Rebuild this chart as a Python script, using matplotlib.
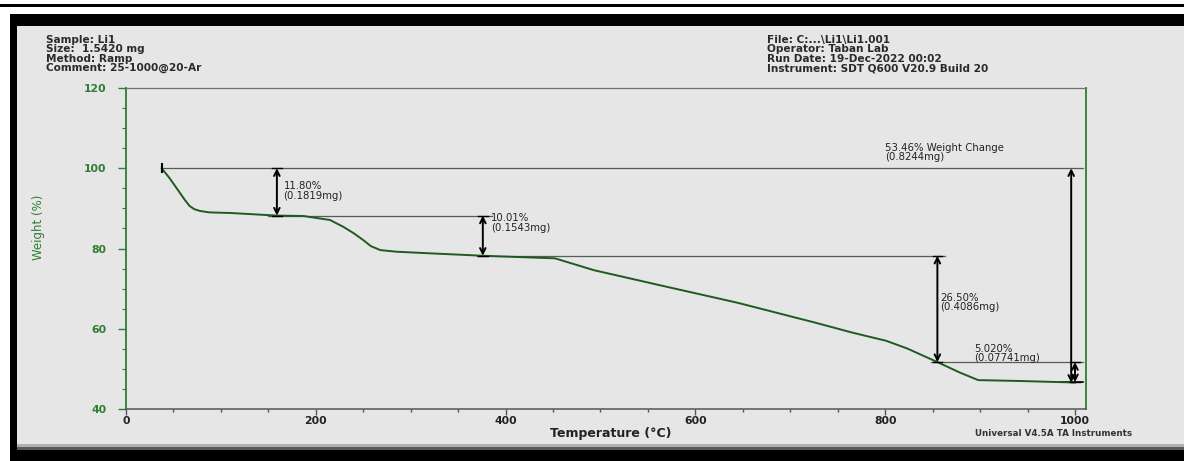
import matplotlib
matplotlib.use("Agg")
import matplotlib.pyplot as plt
from matplotlib.patches import Rectangle
from matplotlib.ticker import MultipleLocator

# TGA run of sample Li1 (weight % vs temperature)
temperature = [37.6, 46, 57, 62, 67, 72, 78, 88, 110, 159, 187, 215, 229, 240,
               250, 258, 268, 285, 320, 376, 452, 493, 569, 644, 725, 766, 801,
               823, 855, 879, 898, 942, 1000]
weight = [100.0, 97.5, 93.8, 92.1, 90.6, 89.8, 89.35, 89.0, 88.85, 88.2, 88.1,
          87.1, 85.4, 83.8, 82.1, 80.6, 79.6, 79.2, 78.8, 78.19, 77.55, 74.6,
          70.5, 66.5, 61.6, 59.0, 57.0, 55.1, 51.69, 49.05, 47.2, 46.98, 46.6]

# step transitions: where the arrow sits, the upper level and the % lost
step_temp = [159, 376, 855, 1000]
step_top = [100.0, 88.20, 78.19, 51.69]
step_change = [11.80, 10.01, 26.50, 5.020]
step_mass = ["0.1819", "0.1543", "0.4086", "0.07741"]

total_temp = 996
total_change = 53.46
total_mass = "0.8244"

header_left = ["Sample: Li1", "Size:  1.5420 mg", "Method: Ramp",
               "Comment: 25-1000@20-Ar"]
header_right = ["File: C:...\\Li1\\Li1.001", "Operator: Taban Lab",
                "Run Date: 19-Dec-2022 00:02",
                "Instrument: SDT Q600 V20.9 Build 20"]

W, H = 1184, 461
BG = "#e6e6e6"
GREEN = "#2e7d32"
CURVE = "#1f5a1f"

plt.rcParams["font.family"] = ["DejaVu Sans"]
fig = plt.figure(figsize=(W / 100, H / 100), dpi=100, facecolor="white")

def px(x0, y0, w, h, **kw):
    # rectangle given in pixel coords measured from the top-left corner
    r = Rectangle((x0 / W, 1 - (y0 + h) / H), w / W, h / H,
                  transform=fig.transFigure, zorder=-5, lw=0, **kw)
    fig.add_artist(r)

px(0, 4, W, 3.5, color="black")
px(10, 14, W - 10, H - 14, color="black")
px(17, 26, W - 17, 420, color=BG)
px(17, 444, W - 17, 3, color="#b0b0b0")
px(17, 447, W - 17, 3, color="#5a5a5a")

ax = fig.add_axes([126 / W, 1 - 409 / H, 960 / W, 321 / H])
ax.set_facecolor(BG)
ax.set_xlim(0, 1011.6)
ax.set_ylim(40, 120)

ax.plot(temperature, weight, color=CURVE, lw=1.4, zorder=4)
# starting marker
ax.plot([temperature[0]] * 2, [weight[0] - 1.0, weight[0] + 1.0],
        color="black", lw=1.5, zorder=5)

line_kw = dict(color="#5a5a5a", lw=0.9, zorder=3)
ax.plot([temperature[0], 1008], [100, 100], **line_kw)
ax.plot([150, 386], [step_top[1], step_top[1]], **line_kw)
ax.plot([370, 863], [step_top[2], step_top[2]], **line_kw)
ax.plot([848, 1008], [step_top[3], step_top[3]], **line_kw)
ax.plot([985, 1008], [step_top[3] - step_change[3]] * 2, color="black", lw=1.2,
        zorder=3)

arrow_kw = dict(arrowstyle="<->", lw=1.4, color="black", mutation_scale=10,
                shrinkA=0, shrinkB=0)

text_off = [(7, -3.3), (9, 0.6), (3, -9.2), (-106, 4.6)]
for t, top, ch, mass, (dx, dy) in zip(step_temp, step_top, step_change,
                                      step_mass, text_off):
    bottom = top - ch
    ax.annotate("", xy=(t, bottom), xytext=(t, top), arrowprops=arrow_kw,
                zorder=6)
    ax.plot([t - 5, t + 5], [top, top], color="black", lw=1.0, zorder=6)
    ax.plot([t - 5, t + 5], [bottom, bottom], color="black", lw=1.0, zorder=6)
    label = (f"{ch:.3f}%" if ch < 10 else f"{ch:.2f}%") + f"\n({mass}mg)"
    ax.text(t + dx, top + dy, label, fontsize=7.3, va="top", ha="left",
            color="#222222", linespacing=0.95, zorder=7)

total_bottom = 100 - total_change
ax.annotate("", xy=(total_temp, total_bottom), xytext=(total_temp, 100),
            arrowprops=arrow_kw, zorder=6)
ax.text(800, 106.4, f"{total_change:.2f}% Weight Change\n({total_mass}mg)",
        fontsize=7.3, va="top", ha="left", color="#222222", linespacing=0.95)

# axes styling
for side in ("left", "right"):
    ax.spines[side].set_color(GREEN)
    ax.spines[side].set_linewidth(1.3)
ax.spines["top"].set_color("#707070")
ax.spines["top"].set_linewidth(0.9)
ax.spines["bottom"].set_color("#555555")
ax.spines["bottom"].set_linewidth(1.1)

ax.xaxis.set_major_locator(MultipleLocator(200))
ax.xaxis.set_minor_locator(MultipleLocator(50))
ax.yaxis.set_major_locator(MultipleLocator(20))
ax.yaxis.set_minor_locator(MultipleLocator(5))
ax.tick_params(axis="y", which="major", direction="out", length=6, width=1,
               color=GREEN, labelcolor=GREEN, labelsize=7.8, pad=8)
ax.tick_params(axis="y", which="minor", direction="out", length=3, width=0.8,
               color=GREEN)
ax.tick_params(axis="x", which="major", direction="out", length=4, width=1,
               color="#555555", labelcolor="#222222", labelsize=7.8, pad=1)
ax.tick_params(axis="x", which="minor", direction="out", length=2, width=1,
               color="#555555")
for lab in ax.get_xticklabels() + ax.get_yticklabels():
    lab.set_fontweight("bold")

ax.set_xlabel("Temperature (°C)", fontsize=9, fontweight="bold",
              color="#222222")
ax.xaxis.set_label_coords(0.505, -0.055)
ax.set_ylabel("Weight (%)", fontsize=8.5, color=GREEN)
ax.yaxis.set_label_coords(-0.084, 0.567)

fig.text(45.7 / W, 1 - 35 / H, "\n".join(header_left), fontsize=7.6,
         fontweight="bold", color="#2a2a2a", va="top", ha="left",
         linespacing=0.92)
fig.text(767 / W, 1 - 35 / H, "\n".join(header_right), fontsize=7.6,
         fontweight="bold", color="#2a2a2a", va="top", ha="left",
         linespacing=0.92)
fig.text(975 / W, 1 - 433 / H, "Universal V4.5A TA Instruments", fontsize=6.3,
         fontweight="bold", color="#333333", va="center", ha="left")

fig.savefig("out.png", dpi=100, facecolor=fig.get_facecolor())
